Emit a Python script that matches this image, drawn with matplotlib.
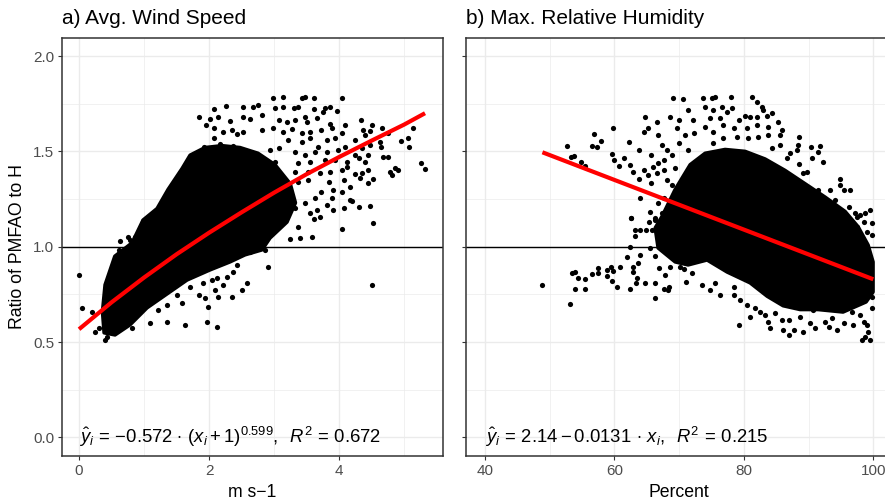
import numpy as np
import matplotlib
matplotlib.use("Agg")
import matplotlib.pyplot as plt
from matplotlib.ticker import MultipleLocator

plt.rcParams['font.family'] = ['Liberation Sans', 'DejaVu Sans']
plt.rcParams['mathtext.fontset'] = 'custom'
plt.rcParams['mathtext.rm'] = 'Liberation Sans'
plt.rcParams['mathtext.it'] = 'Liberation Sans:italic'

# ---- panel a: average wind speed (m s-1) vs ratio PMFAO / H ----
# saturated centre of the cloud (outline)
wind_core_x = [0.385, 0.360, 0.400, 0.550, 0.815, 0.985, 1.200, 1.369, 1.585, 1.708, 1.938, 2.200,
               2.477, 2.754, 3.015, 3.250, 3.330, 3.200, 2.938, 2.815, 2.554, 2.323, 2.015, 1.662,
               1.400, 1.046, 0.785, 0.554]
wind_core_y = [0.548, 0.660, 0.800, 0.950, 1.020, 1.140, 1.200, 1.300, 1.410, 1.480, 1.520, 1.530,
               1.520, 1.490, 1.430, 1.330, 1.230, 1.129, 1.045, 0.983, 0.957, 0.920, 0.878, 0.825,
               0.763, 0.679, 0.590, 0.537]

# individual points around the centre
wind_pts = [
    (1.84, 1.68), (2.08, 1.72), (2.26, 1.74), (2.53, 1.735), (2.67, 1.735), (2.53, 1.68), (2.63, 1.67),
    (2.14, 1.68), (2.02, 1.67), (1.95, 1.64), (2.08, 1.62), (2.32, 1.66), (2.22, 1.60), (2.36, 1.61),
    (2.43, 1.59), (2.53, 1.60), (2.07, 1.57), (1.92, 1.525), (2.17, 1.54), (2.37, 1.53), (2.27, 1.51),
    (1.76, 1.47), (1.84, 1.455), (1.71, 1.43), (1.55, 1.385), (1.48, 1.34), (1.58, 1.32), (1.40, 1.29),
    (1.35, 1.25), (1.32, 1.24), (1.25, 1.18), (0.99, 1.135), (0.76, 1.05), (0.61, 0.98), (0.63, 1.03),
    (0.79, 1.035), (0.86, 1.05), (0.94, 1.06),
    (2.99, 1.78), (3.14, 1.787), (3.43, 1.78), (3.48, 1.787), (3.61, 1.782), (4.04, 1.782), (2.76, 1.743),
    (3.02, 1.726), (3.14, 1.735), (3.30, 1.726), (3.37, 1.735), (3.61, 1.722), (3.79, 1.726), (3.86, 1.735),
    (3.97, 1.712), (3.76, 1.708), (2.81, 1.691), (3.08, 1.665), (3.20, 1.656), (3.32, 1.665), (3.48, 1.682),
    (3.50, 1.656), (3.66, 1.674), (3.86, 1.642), (3.89, 1.621), (4.09, 1.639), (4.34, 1.665), (2.81, 1.612),
    (2.99, 1.621), (3.14, 1.603), (3.27, 1.618), (3.43, 1.595), (3.55, 1.603), (3.73, 1.612), (4.04, 1.595),
    (4.37, 1.612), (4.50, 1.639), (4.48, 1.607), (4.66, 1.621), (4.76, 1.595), (5.14, 1.621), (3.22, 1.56),
    (3.43, 1.551), (3.55, 1.569), (3.68, 1.525), (3.81, 1.56), (3.94, 1.569), (4.09, 1.525), (4.25, 1.56),
    (4.40, 1.586), (4.48, 1.534), (4.63, 1.551), (4.65, 1.525), (4.95, 1.556), (5.07, 1.525), (5.06, 1.572),
    (2.94, 1.507), (3.07, 1.516), (3.32, 1.498), (3.48, 1.481), (3.63, 1.498), (3.81, 1.498), (3.99, 1.507),
    (4.25, 1.481), (4.35, 1.516), (4.44, 1.481), (4.68, 1.472), (4.76, 1.472), (3.02, 1.446), (3.37, 1.438),
    (3.55, 1.446), (3.79, 1.455), (3.94, 1.455), (4.12, 1.446), (4.30, 1.464), (4.12, 1.42), (3.32, 1.394),
    (3.53, 1.394), (3.71, 1.385), (3.86, 1.394), (4.04, 1.402), (4.25, 1.38), (4.35, 1.385), (4.45, 1.402),
    (4.79, 1.394), (4.81, 1.376), (4.91, 1.402), (5.26, 1.438), (5.33, 1.408), (3.37, 1.341), (3.53, 1.35),
    (3.84, 1.341), (4.07, 1.35), (4.32, 1.359), (4.45, 1.333), (4.53, 1.354), (3.73, 1.289), (3.91, 1.297),
    (4.17, 1.315), (4.04, 1.289), (4.20, 1.24), (3.89, 1.254), (4.30, 1.21), (4.48, 1.214), (3.63, 1.254),
    (3.48, 1.228), (3.32, 1.201), (3.66, 1.193), (4.07, 1.201), (3.81, 1.219), (4.86, 1.411), (4.40, 1.446),
    (4.17, 1.245), (3.91, 1.193), (3.71, 1.158), (3.55, 1.175), (4.53, 1.123), (4.04, 1.091), (3.58, 1.049),
    (3.40, 1.044), (3.25, 1.039), (3.37, 1.105), (3.61, 1.145), (2.90, 0.895), (4.50, 0.797), (2.86, 0.983),
    (0.00, 0.852), (0.04, 0.677), (0.20, 0.659), (0.25, 0.554), (0.30, 0.572), (0.40, 0.511), (0.43, 0.528),
    (1.09, 0.598), (0.86, 0.642), (0.81, 0.572), (1.35, 0.694), (1.35, 0.607), (1.22, 0.668), (1.63, 0.589),
    (1.58, 0.703), (1.50, 0.747), (1.71, 0.79), (1.76, 0.852), (1.84, 0.747), (1.94, 0.733), (1.97, 0.607),
    (1.99, 0.685), (2.09, 0.773), (2.12, 0.58), (2.14, 0.738), (2.22, 0.799), (2.35, 0.738), (2.27, 0.843),
    (2.37, 0.869), (2.50, 0.773), (2.58, 0.808), (2.63, 0.974), (2.43, 0.904), (2.12, 0.834), (1.91, 0.808),
    (2.04, 0.825),
]

# fitted curve
wind_fit_x = [0.0, 0.5, 1.0, 1.5, 2.0, 2.5, 3.0, 3.5, 4.0, 4.5, 5.0, 5.323]
wind_fit_y = [0.567, 0.708, 0.838, 0.960, 1.073, 1.180, 1.283, 1.380, 1.470, 1.556, 1.640, 1.700]

# ---- panel b: maximum relative humidity (%) vs ratio PMFAO / H ----
rh_core_x = [67.36, 69.37, 71.69, 74.00, 77.09, 80.19, 83.28, 86.37, 89.47, 92.56, 95.64, 97.65,
             99.20, 99.97, 99.97, 98.89, 95.33, 91.47, 88.69, 86.06, 83.59, 80.96, 77.40, 74.31,
             71.38, 69.37, 66.74, 66.28]
rh_core_y = [1.160, 1.300, 1.430, 1.490, 1.510, 1.500, 1.460, 1.400, 1.330, 1.260, 1.185, 1.105,
             1.009, 0.920, 0.762, 0.710, 0.657, 0.670, 0.670, 0.690, 0.740, 0.810, 0.867, 0.930,
             0.904, 0.920, 0.993, 1.098]

rh_pts = [
    (52.6, 1.53), (56.9, 1.591), (56.6, 1.528), (57.3, 1.522), (57.9, 1.555), (59.7, 1.624), (53.3, 1.472),
    (53.7, 1.478), (54.8, 1.446), (55.5, 1.425), (59.6, 1.485), (59.9, 1.455), (60.7, 1.425), (61.4, 1.464),
    (62.4, 1.429), (62.3, 1.551), (62.9, 1.39), (63.8, 1.354), (63.8, 1.508), (64.0, 1.254), (64.7, 1.682),
    (64.5, 1.603), (65.2, 1.621), (64.6, 1.403), (65.2, 1.376), (65.7, 1.333), (65.7, 1.481), (66.0, 1.42),
    (66.5, 1.656), (66.8, 1.586), (67.3, 1.534), (66.8, 1.438), (66.5, 1.385), (67.6, 1.455), (67.6, 1.403),
    (68.1, 1.508), (68.6, 1.679), (69.1, 1.779), (70.6, 1.773), (70.0, 1.665), (69.7, 1.621), (71.3, 1.717),
    (72.2, 1.665), (72.3, 1.595), (70.9, 1.586), (69.9, 1.542), (71.4, 1.507), (68.9, 1.481), (69.4, 1.411),
    (68.1, 1.35), (68.9, 1.324), (67.6, 1.254), (66.8, 1.228), (65.5, 1.181), (67.3, 1.175), (62.6, 1.152),
    (66.2, 1.149), (68.9, 1.193),
    (48.8, 0.797), (53.1, 0.699), (53.4, 0.86), (53.9, 0.869), (54.3, 0.834), (53.9, 0.778), (55.4, 0.778),
    (55.5, 0.831), (56.5, 0.857), (57.4, 0.887), (57.4, 0.86), (58.8, 0.878), (58.8, 0.846), (59.5, 0.892),
    (59.8, 0.874), (59.6, 0.82), (60.4, 0.79), (60.9, 0.895), (62.4, 0.778), (62.8, 0.869), (62.9, 0.895),
    (63.5, 0.834), (63.3, 0.808), (63.7, 0.913), (64.0, 0.957), (61.9, 0.947), (62.4, 1.0), (63.2, 1.058),
    (63.2, 1.088), (64.0, 1.088), (64.9, 1.088), (65.8, 1.088), (65.4, 1.128), (66.2, 1.14), (62.5, 1.149),
    (64.7, 0.811), (66.3, 0.808), (66.2, 0.729), (67.6, 0.778), (68.5, 0.79), (68.3, 0.773), (67.8, 0.852),
    (66.9, 0.887), (66.2, 0.953), (65.5, 0.992), (68.6, 0.895), (70.1, 0.895), (71.1, 0.817), (70.7, 0.883),
    (72.0, 0.86),
    (73.5, 0.799), (74.8, 0.773), (76.3, 0.747), (75.6, 0.808), (78.4, 0.79), (78.4, 0.747), (79.4, 0.72),
    (79.2, 0.589), (81.0, 0.633), (80.5, 0.694), (81.7, 0.677), (82.5, 0.659), (83.3, 0.642), (83.8, 0.607),
    (84.1, 0.575), (84.8, 0.651), (85.9, 0.616), (86.9, 0.616), (86.9, 0.537), (87.7, 0.563), (86.1, 0.563),
    (88.7, 0.633), (89.2, 0.554), (90.2, 0.598), (91.0, 0.572), (90.7, 0.668), (92.6, 0.607), (93.1, 0.58),
    (94.4, 0.563), (93.6, 0.624), (95.4, 0.598), (96.9, 0.589), (98.0, 0.642), (98.5, 0.607), (99.0, 0.589),
    (98.2, 0.51), (98.7, 0.528), (99.2, 0.554), (99.5, 0.51), (96.7, 0.659), (99.8, 0.677), (99.8, 0.738),
    (98.5, 1.131), (99.8, 1.123), (99.0, 1.079), (99.8, 1.062), (98.0, 1.026), (96.9, 0.974), (98.5, 0.957),
    (99.2, 0.904), (97.5, 1.105), (95.9, 1.097), (97.5, 1.158), (96.4, 1.297), (98.0, 1.166),
    (73.7, 1.782), (75.0, 1.782), (75.6, 1.787), (78.0, 1.787), (81.3, 1.784), (82.0, 1.761), (74.0, 1.735),
    (75.3, 1.717), (76.6, 1.735), (78.1, 1.726), (82.8, 1.735), (83.0, 1.717), (84.3, 1.70), (83.5, 1.686),
    (82.0, 1.682), (81.0, 1.679), (80.2, 1.687), (79.3, 1.665), (77.4, 1.708), (76.3, 1.674), (74.8, 1.674),
    (85.3, 1.656), (85.9, 1.612), (83.8, 1.63), (82.0, 1.639), (80.5, 1.621), (78.4, 1.621), (76.8, 1.639),
    (75.3, 1.603), (74.0, 1.63), (88.5, 1.577), (85.6, 1.586), (83.8, 1.586), (82.2, 1.577), (80.7, 1.569),
    (78.9, 1.577), (76.8, 1.569), (75.3, 1.543), (90.3, 1.525), (91.7, 1.53), (91.5, 1.498), (92.3, 1.446),
    (88.3, 1.534), (88.2, 1.507), (87.1, 1.49), (85.6, 1.534), (84.3, 1.516), (89.7, 1.394), (89.2, 1.385),
    (90.5, 1.464), (88.5, 1.434), (86.7, 1.464), (94.8, 1.355), (94.9, 1.324), (95.4, 1.297), (93.3, 1.297),
    (91.5, 1.297), (96.3, 1.21), (97.1, 1.178), (99.5, 1.193), (98.7, 1.175), (94.1, 1.245), (92.8, 1.236),
]

rh_fit_x = [48.86, 100.0]
rh_fit_y = [1.495, 0.829]

wind_label = r'$\hat{y}_i \,=\, {-0.572} \,\cdot\, (x_i + 1)^{0.599},\;\; R^2 \,=\, 0.672$'
rh_label = r'$\hat{y}_i \,=\, 2.14 - 0.0131 \,\cdot\, x_i,\;\; R^2 \,=\, 0.215$'

GRID = '#EBEBEB'
TICKC = '#4D4D4D'
BORDER = '#333333'

fig = plt.figure(figsize=(8.85, 5.04), dpi=100)
ax1 = fig.add_axes([0.0697, 0.0952, 0.4309, 0.8300])
ax2 = fig.add_axes([0.5262, 0.0952, 0.4825, 0.8300], sharey=ax1)


def style(ax, major, minor):
    ax.xaxis.set_major_locator(MultipleLocator(major))
    ax.xaxis.set_minor_locator(MultipleLocator(minor))
    ax.yaxis.set_major_locator(MultipleLocator(0.5))
    ax.yaxis.set_minor_locator(MultipleLocator(0.25))
    ax.grid(which='major', color=GRID, lw=1.0)
    ax.grid(which='minor', color=GRID, lw=0.5)
    ax.set_axisbelow(True)
    ax.tick_params(which='major', length=3, width=0.8, color=BORDER,
                   labelcolor=TICKC, labelsize=11, pad=2.5)
    ax.tick_params(which='minor', length=0)
    for s in ax.spines.values():
        s.set_color(BORDER)
        s.set_linewidth(1.1)


def draw(ax, core_x, core_y, pts, fit_x, fit_y):
    pts = np.array(pts)
    ax.axhline(1.0, color='black', lw=1.0, zorder=1.5)
    ax.fill(core_x, core_y, facecolor='black', edgecolor='black', lw=2.5,
            joinstyle='round', zorder=2)
    ax.scatter(pts[:, 0], pts[:, 1], s=14, color='black', linewidths=0, zorder=2)
    ax.plot(fit_x, fit_y, color='red', lw=3, solid_capstyle='butt', zorder=3)


draw(ax1, wind_core_x, wind_core_y, wind_pts, wind_fit_x, wind_fit_y)
draw(ax2, rh_core_x, rh_core_y, rh_pts, rh_fit_x, rh_fit_y)

style(ax1, 2, 1)
style(ax2, 20, 10)

ax1.set_xlim(-0.267, 5.6)
ax2.set_xlim(37.0, 103.0)
ax1.set_ylim(-0.098, 2.096)
ax1.yaxis.set_major_formatter(plt.FuncFormatter(lambda v, p: f'{v:.1f}'))
ax2.tick_params(axis='y', labelleft=False)

ax1.text(0, 0, wind_label, ha='left', va='center', fontsize=13.3, zorder=4)
ax2.text(40, 0, rh_label, ha='left', va='center', fontsize=13.3, zorder=4)

ax1.set_title('a) Avg. Wind Speed', loc='left', fontsize=15, pad=10.2)
ax2.set_title('b) Max. Relative Humidity', loc='left', fontsize=15, pad=10.2)

ax1.set_xlabel('m s\u22121', fontsize=12.7)
ax2.set_xlabel('Percent', fontsize=12.7)
ax1.set_ylabel('Ratio of PMFAO to H', fontsize=12.7)
for ax in (ax1, ax2):
    ax.xaxis.set_label_coords(0.5, -0.087)
    ax.xaxis.label.set_va('center')
ax1.yaxis.set_label_coords(-0.115, 0.5)
ax1.yaxis.label.set_va('center')

fig.savefig('out.png', dpi=100)
